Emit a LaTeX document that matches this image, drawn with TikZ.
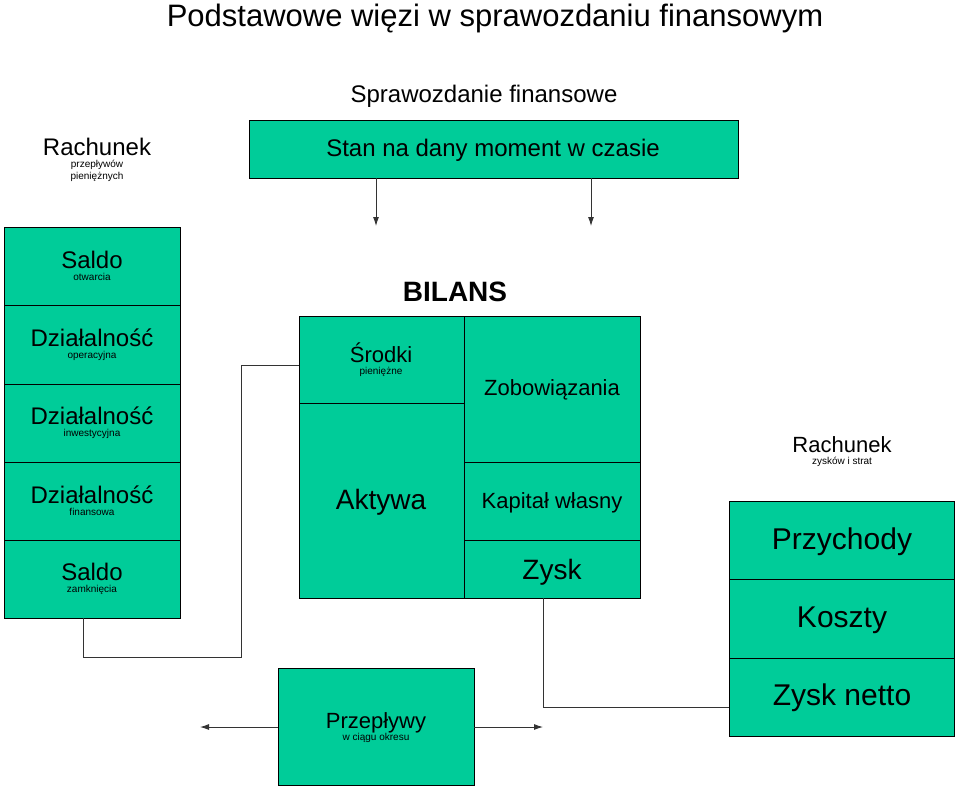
\documentclass[tikz,border=0pt]{standalone}
\usepackage{fontspec}
\setmainfont{Liberation Sans}
\usetikzlibrary{arrows.meta}
\definecolor{tg}{HTML}{00CC99}
\begin{document}
\begin{tikzpicture}[x=1pt,y=-1pt,
 cell/.style={draw=black,fill=tg,line width=0.9pt},
 lbl/.style={align=center,inner sep=0pt},
 conn/.style={line width=0.9pt,black!80},
 arr/.style={conn,-{Latex[length=9pt,width=6pt]}}]
\useasboundingbox (0,0) rectangle (960,787);
\def\fs#1{\fontsize{#1}{#1}\selectfont}
\node[lbl] (title) at (495,18) {\fs{31}Podstawowe więzi w sprawozdaniu finansowym};
% left column
\node[lbl,align=center] (rpp) at (97,160) {\fs{24}\def\baselinestretch{1}\fontsize{24}{35}\selectfont Rachunek\\przepływów\\pieniężnych};
\foreach \n/\a/\b/\t in {c1/227/305/{Saldo\\otwarcia},c2/305/384/{Działalność\\operacyjna},c3/384/462/{Działalność\\inwestycyjna},c4/462/540/{Działalność\\finansowa},c5/540/618/{Saldo\\zamknięcia}}{
 \draw[cell] (4,\a) rectangle (180,\b);
 \node[lbl] (\n) at (92,{(\a+\b)/2}) {\fontsize{24}{35}\selectfont \t};
}
\coordinate (c5b) at (83,618);
% top
\node[lbl] (spr) at (484,96) {\fs{24}Sprawozdanie finansowe};
\draw[cell] (249,120) rectangle (738,178);
\node[lbl] (stan) at (493,150) {\fs{24}Stan na dany moment w czasie};
\coordinate (s1) at (376,178); \coordinate (s2) at (591,178);
\coordinate (t1) at (376,226); \coordinate (t2) at (591,226);
\draw[arr] (s1) -- (t1);
\draw[arr] (s2) -- (t2);
% bilans
\node[lbl] (bil) at (455,292) {\fs{28}\bfseries BILANS};
\draw[cell] (299,316) rectangle (464,598);
\draw[line width=0.9pt] (299,403) -- (464,403);
\node[lbl] (srod) at (381,360) {\fontsize{22}{37}\selectfont Środki\\pieniężne};
\node[lbl] (akt) at (381,502) {\fs{28}Aktywa};
\draw[cell] (464,316) rectangle (640,598);
\draw[line width=0.9pt] (464,462) -- (640,462);
\draw[line width=0.9pt] (464,540) -- (640,540);
\node[lbl] (zob) at (552,390) {\fs{22}Zobowiązania};
\node[lbl] (kap) at (552,503) {\fs{22}Kapitał własny};
\node[lbl] (zysk) at (552,572) {\fs{28}Zysk};
\coordinate (zb) at (543,598);
% rzis
\node[lbl] (rz) at (842,452) {\fontsize{22}{32}\selectfont Rachunek\\zysków i strat};
\draw[cell] (729,501) rectangle (954,579);
\draw[cell] (729,579) rectangle (954,658);
\draw[cell] (729,658) rectangle (954,736);
\node[lbl] (prz) at (842,542) {\fs{30}Przychody};
\node[lbl] (kosz) at (842,620) {\fs{30}Koszty};
\node[lbl] (netto) at (842,698) {\fs{30}Zysk netto};
% przeplywy
\draw[cell] (278,668) rectangle (474,785);
\node[lbl] (pw) at (376,728) {\fontsize{22}{32}\selectfont Przepływy\\w ciągu okresu};
\coordinate (pl) at (278,727); \coordinate (pr) at (474,727);
\coordinate (al) at (200,727); \coordinate (ar) at (543,727);
\draw[arr] (pl) -- (al);
\draw[arr] (pr) -- (ar);
% connectors
\draw[conn] (c5b) |- (241,657) |- (299,365);
\draw[conn] (zb) |- (729,707);
\end{tikzpicture}
\end{document}
